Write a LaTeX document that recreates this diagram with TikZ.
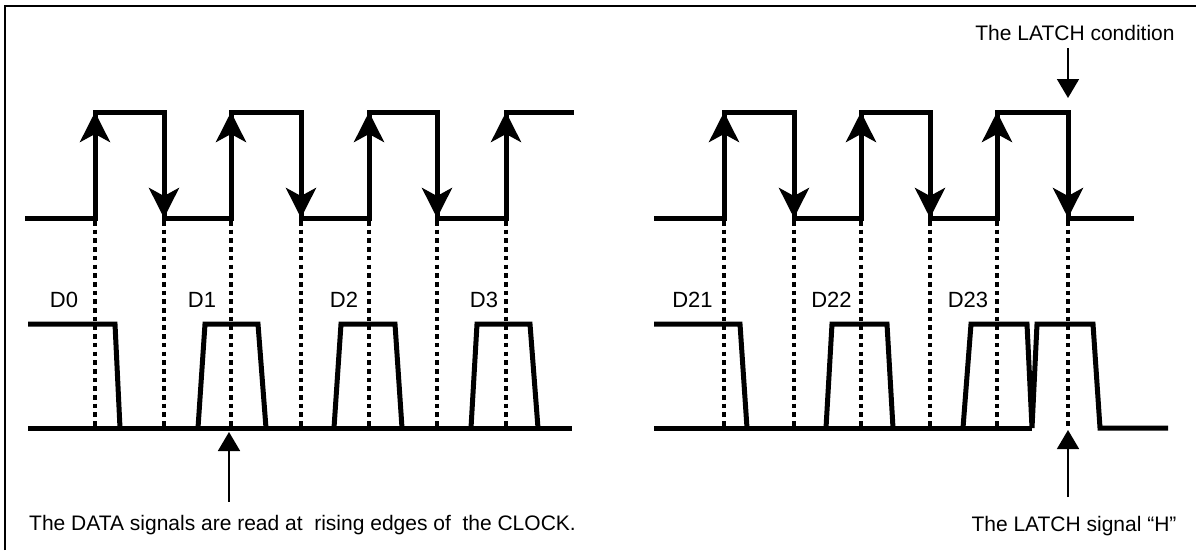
\documentclass[tikz,border=0pt]{standalone}
\usepackage{fontspec}
\setmainfont{Liberation Sans}
\usetikzlibrary{arrows.meta}
\begin{document}
\begin{tikzpicture}[x=1pt,y=-1pt,
  wave/.style={line width=5pt,line join=miter},
  edgearrow/.style={line width=5pt,-{Stealth[length=30pt,width=30pt,inset=8pt]}},
  guide/.style={line width=4.3pt,dash pattern=on 4.6pt off 4.1pt},
  callout/.style={line width=1.7pt,-{Triangle[length=19pt,width=22pt]}},
  lbl/.style={font=\fontsize{21}{25}\selectfont,inner sep=0pt,anchor=base},
  dlbl/.style={lbl,font=\fontsize{22}{26}\selectfont},
  frameline/.style={line width=1.7pt}]
\useasboundingbox (0,0) rectangle (1196,550);
% frame
\draw[frameline] (5,550) -- (5,6) -- (1196,6);

% ---- left clock ----
\draw[wave] (25,218) -- (95,218) -- (95,112) -- (164,112) -- (164,218) -- (231,218) -- (231,112)
  -- (301,112) -- (301,218) -- (369,218) -- (369,112) -- (437,112) -- (437,218) -- (506,218)
  -- (506,112) -- (574,112);
\foreach \x in {95,231,369,506} \draw[edgearrow] (\x,218) -- (\x,112);
\foreach \x in {164,301,437} \draw[edgearrow] (\x,112) -- (\x,218);

% ---- right clock ----
\draw[wave] (654,218) -- (724,218) -- (724,112) -- (794,112) -- (794,218) -- (861,218) -- (861,112)
  -- (930,112) -- (930,218) -- (997,218) -- (997,112) -- (1068,112) -- (1068,218) -- (1134,218);
\foreach \x in {724,861,997} \draw[edgearrow] (\x,218) -- (\x,112);
\foreach \x in {794,930,1068} \draw[edgearrow] (\x,112) -- (\x,218);

% ---- guide lines ----
\foreach \x in {95,164,231,301,369,437,506,724,794,861,930,997,1068}
  \draw[guide] (\x,221) -- (\x,427);

% ---- left data ----
\draw[wave] (28,324) -- (115,324) -- (120,428);
\draw[wave] (28,428) -- (572,428);
\draw[wave] (198,428) -- (205,324) -- (258,324) -- (266,428);
\draw[wave] (334,428) -- (341,324) -- (395,324) -- (402,428);
\draw[wave] (471,428) -- (477,324) -- (530,324) -- (538,428);

% ---- right data ----
\draw[wave] (654,324) -- (740,324) -- (747,428);
\draw[wave] (654,428) -- (1032,428);
\draw[wave] (826,428) -- (832,324) -- (887,324) -- (893,428);
\draw[wave] (963,428) -- (971,324) -- (1027,324) -- (1032,428) -- (1037,324) -- (1093,324)
  -- (1100,428) -- (1168,428);

% ---- labels ----
\node[dlbl] (d0) at (64,307) {D0};
\node[dlbl] (d1) at (202,307) {D1};
\node[dlbl] (d2) at (344,307) {D2};
\node[dlbl] (d3) at (484,307) {D3};
\node[dlbl] (d21) at (692.5,307) {D21};
\node[dlbl] (d22) at (831.5,307) {D22};
\node[dlbl] (d23) at (968,307) {D23};

\node[lbl] (lc) at (1075,40) {The LATCH condition};
\node[lbl] (ls) at (1074,531.5) {The LATCH signal “H”};
\node[lbl,anchor=base west] (rd) at (29,530) {The DATA signals are read at\ \ rising edges of\ \ the CLOCK.};

\coordinate (lcTip) at (1068,98);
\coordinate (lsTip) at (1068,430);
\coordinate (rdTip) at (229,432);

\draw[callout,shorten <=8pt] (lc.south -| lcTip) -- (lcTip);
\draw[callout,shorten <=19pt] (ls.north -| lsTip) -- (lsTip);
\draw[callout,shorten <=13pt] (rd.north -| rdTip) -- (rdTip);
\end{tikzpicture}
\end{document}
